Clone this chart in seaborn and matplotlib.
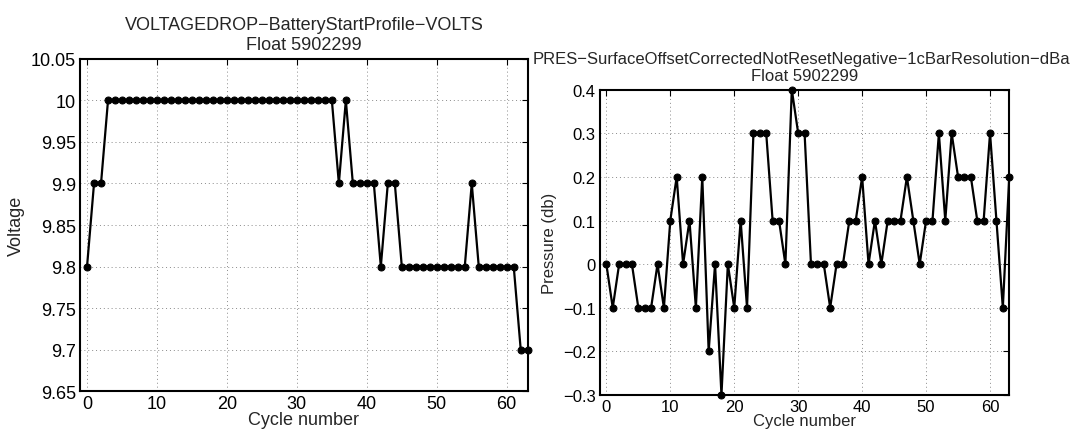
import numpy as np
import pandas as pd
import matplotlib
matplotlib.use("Agg")
import matplotlib.pyplot as plt
import seaborn as sns
from matplotlib.ticker import FuncFormatter

# Cycle numbers for float 5902299
cycles = list(range(0, 64))

# Battery voltage at profile start (VOLTS)
voltage = [9.8, 9.9, 9.9] + [10.0] * 33 + [9.9, 10.0, 9.9, 9.9, 9.9, 9.9,
           9.8, 9.9, 9.9] + [9.8] * 10 + [9.9] + [9.8] * 6 + [9.7, 9.7]

# Surface pressure offset (dbar)
pressure = [0, -0.1, 0, 0, 0, -0.1, -0.1, -0.1, 0, -0.1,
            0.1, 0.2, 0, 0.1, -0.1, 0.2, -0.2, 0, -0.3, 0,
            -0.1, 0.1, -0.1, 0.3, 0.3, 0.3, 0.1, 0.1, 0, 0.4,
            0.3, 0.3, 0, 0, 0, -0.1, 0, 0, 0.1, 0.1,
            0.2, 0, 0.1, 0, 0.1, 0.1, 0.1, 0.2, 0.1, 0,
            0.1, 0.1, 0.3, 0.1, 0.3, 0.2, 0.2, 0.2, 0.1, 0.1,
            0.3, 0.1, -0.1, 0.2]

left_title = "VOLTAGEDROP\u2212BatteryStartProfile\u2212VOLTS\nFloat 5902299"
right_title = ("PRES\u2212SurfaceOffsetCorrectedNotResetNegative\u22121cBarResolution\u2212dBar"
               "\nFloat 5902299")

sns.set_style("white")
plt.rcParams["font.family"] = ["Liberation Sans", "DejaVu Sans"]
plt.rcParams["axes.unicode_minus"] = True

df_v = pd.DataFrame({"cycle": cycles, "value": voltage})
df_p = pd.DataFrame({"cycle": cycles, "value": pressure})

fig = plt.figure(figsize=(10.7, 4.39), dpi=100)
ax1 = fig.add_axes([0.0748, 0.1064, 0.4184, 0.7575])
ax2 = fig.add_axes([0.5607, 0.098, 0.3825, 0.6955])


def fmt(v, pos):
    s = "%g" % round(v, 4)
    return s.replace("-", "\u2212")


def style(ax, df, ylim, yticks, ylabel, title, fs):
    sns.lineplot(data=df, x="cycle", y="value", ax=ax, color="black",
                 linewidth=1.6, marker="o", markersize=5,
                 markeredgecolor="black", markerfacecolor="black",
                 clip_on=False, zorder=3)
    ax.set_xlim(-1, 63)
    ax.set_ylim(*ylim)
    ax.set_xticks(range(0, 61, 10))
    ax.set_yticks(yticks)
    ax.yaxis.set_major_formatter(FuncFormatter(fmt))
    ax.grid(True, linestyle=(0, (1, 3)), color="#8a8a8a", linewidth=0.7)
    ax.tick_params(direction="in", top=True, right=True, length=4,
                   width=0.8, labelsize=fs, colors="black", pad=3)
    for sp in ax.spines.values():
        sp.set_visible(True)
        sp.set_linewidth(1.5)
        sp.set_color("black")
    ax.set_xlabel("Cycle number", fontsize=fs, labelpad=-1)
    ax.set_ylabel(ylabel, fontsize=fs, labelpad=4)
    ax.set_title(title, fontsize=fs, pad=7, linespacing=1.2)


style(ax1, df_v, (9.65, 10.05), np.arange(9.65, 10.051, 0.05), "Voltage",
      left_title, 13)
style(ax2, df_p, (-0.3, 0.4), np.arange(-0.3, 0.401, 0.1), "Pressure (db)",
      right_title, 12)

fig.savefig("out.png", dpi=100)
